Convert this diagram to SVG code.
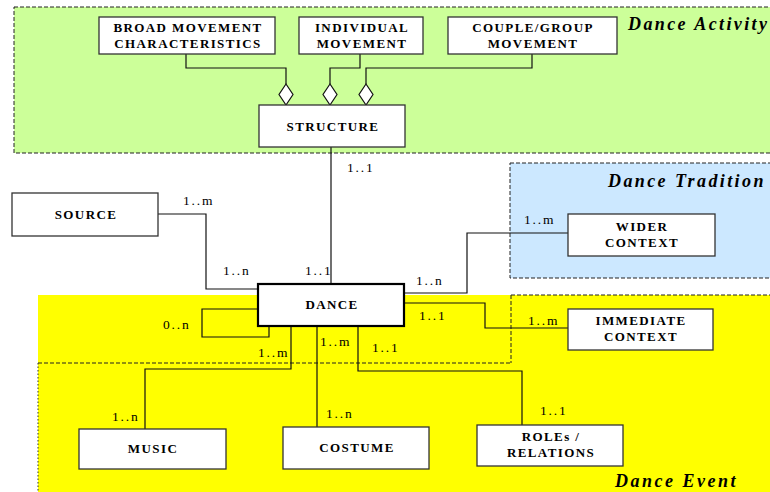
<svg xmlns="http://www.w3.org/2000/svg" width="770" height="492" viewBox="0 0 770 492">
<style>
.box{fill:#fff;stroke:#333;stroke-width:1.3}
.main{fill:#fff;stroke:#000;stroke-width:2.2}
.bt{font-family:"Liberation Serif","Times New Roman",serif;font-weight:bold;font-size:13px;letter-spacing:1.4px;text-anchor:middle;fill:#000}
.lab{font-family:"Liberation Serif","Times New Roman",serif;font-size:13.5px;letter-spacing:1.8px;fill:#000}
.reg{font-family:"Liberation Serif","Times New Roman",serif;font-weight:bold;font-style:italic;font-size:18px;letter-spacing:2.4px;fill:#000}
.conn{fill:none;stroke:#111;stroke-width:1.2}
.dash{stroke:#222;stroke-width:1;stroke-dasharray:4 2}
.dia{fill:#fff;stroke:#111;stroke-width:1.2}
</style>
<g id="regions">
<rect x="14" y="7" width="770" height="146" style="fill:#CCFF99" class="dash"/>
<rect x="510" y="163" width="270" height="115" style="fill:#CCE8FF" class="dash"/>
<rect x="38" y="295" width="732" height="197" fill="#FFFF00"/>
<path class="dash" style="fill:none" d="M511,295 H770 M511,295 V363 M38,363 H511"/>
<path fill="none" stroke="#333" stroke-width="1" stroke-dasharray="1.5 2" d="M38,363 V492"/>
<text class="reg" x="628" y="30">Dance Activity</text>
<text class="reg" x="608" y="187">Dance Tradition</text>
<text class="reg" x="615" y="487" style="letter-spacing:2.5px">Dance Event</text>
</g>
<g id="connectors">
<path class="conn" d="M186,54 V68 H286 V84"/>
<path class="conn" d="M360,54 V68 H330 V84"/>
<path class="conn" d="M532,54 V68 H366 V84"/>
<polygon class="dia" points="286,84 293,94.5 286,105 279,94.5"/>
<polygon class="dia" points="330,84 337,94.5 330,105 323,94.5"/>
<polygon class="dia" points="366,84 373,94.5 366,105 359,94.5"/>
<path class="conn" d="M331,147 V284"/>
<path class="conn" d="M158,214 H206 V289 H258"/>
<path class="conn" d="M404,293 H467 V233 H568"/>
<path class="conn" d="M404,303 H485 V328 H568"/>
<path class="conn" d="M258,309 H202 V337 H269 V326"/>
<path class="conn" d="M291,326 V369 H145 V429"/>
<path class="conn" d="M317,326 V427"/>
<path class="conn" d="M358,326 V371 H522 V425"/>
<text class="lab" x="347" y="172">1..1</text>
<text class="lab" x="183" y="205">1..m</text>
<text class="lab" x="223" y="275">1..n</text>
<text class="lab" x="305" y="275">1..1</text>
<text class="lab" x="416" y="285">1..n</text>
<text class="lab" x="524" y="224">1..m</text>
<text class="lab" x="419" y="320">1..1</text>
<text class="lab" x="528" y="325">1..m</text>
<text class="lab" x="163" y="329">0..n</text>
<text class="lab" x="258" y="357">1..m</text>
<text class="lab" x="112" y="421">1..n</text>
<text class="lab" x="320" y="346">1..m</text>
<text class="lab" x="326" y="418">1..n</text>
<text class="lab" x="372" y="352">1..1</text>
<text class="lab" x="540" y="415">1..1</text>
</g>
<g id="broad">
<rect class="box" x="99" y="17" width="176" height="37"/>
<text class="bt" x="188" y="32">BROAD MOVEMENT</text>
<text class="bt" x="188" y="48">CHARACTERISTICS</text>
</g>
<g id="individual">
<rect class="box" x="299" y="17" width="124" height="37"/>
<text class="bt" x="362" y="32">INDIVIDUAL</text>
<text class="bt" x="362" y="48">MOVEMENT</text>
</g>
<g id="couple">
<rect class="box" x="448" y="17" width="169" height="37"/>
<text class="bt" x="533" y="32">COUPLE/GROUP</text>
<text class="bt" x="533" y="48">MOVEMENT</text>
</g>
<g id="structure">
<rect class="box" x="259" y="105" width="146" height="42"/>
<text class="bt" x="333" y="131">STRUCTURE</text>
</g>
<g id="source">
<rect class="box" x="12" y="193" width="146" height="43"/>
<text class="bt" x="86" y="219">SOURCE</text>
</g>
<g id="dance">
<rect class="main" x="258" y="284" width="146" height="42"/>
<text class="bt" x="332" y="309">DANCE</text>
</g>
<g id="wider">
<rect class="box" x="568" y="214" width="147" height="42"/>
<text class="bt" x="642" y="231">WIDER</text>
<text class="bt" x="642" y="247">CONTEXT</text>
</g>
<g id="immediate">
<rect class="box" x="568" y="309" width="145" height="41"/>
<text class="bt" x="641" y="325">IMMEDIATE</text>
<text class="bt" x="641" y="341">CONTEXT</text>
</g>
<g id="music">
<rect class="box" x="79" y="429" width="147" height="40"/>
<text class="bt" x="153" y="453">MUSIC</text>
</g>
<g id="costume">
<rect class="box" x="283" y="427" width="146" height="42"/>
<text class="bt" x="357" y="452">COSTUME</text>
</g>
<g id="roles">
<rect class="box" x="477" y="425" width="146" height="41"/>
<text class="bt" x="551" y="441">ROLEs /</text>
<text class="bt" x="551" y="457">RELATIONS</text>
</g>
</svg>
